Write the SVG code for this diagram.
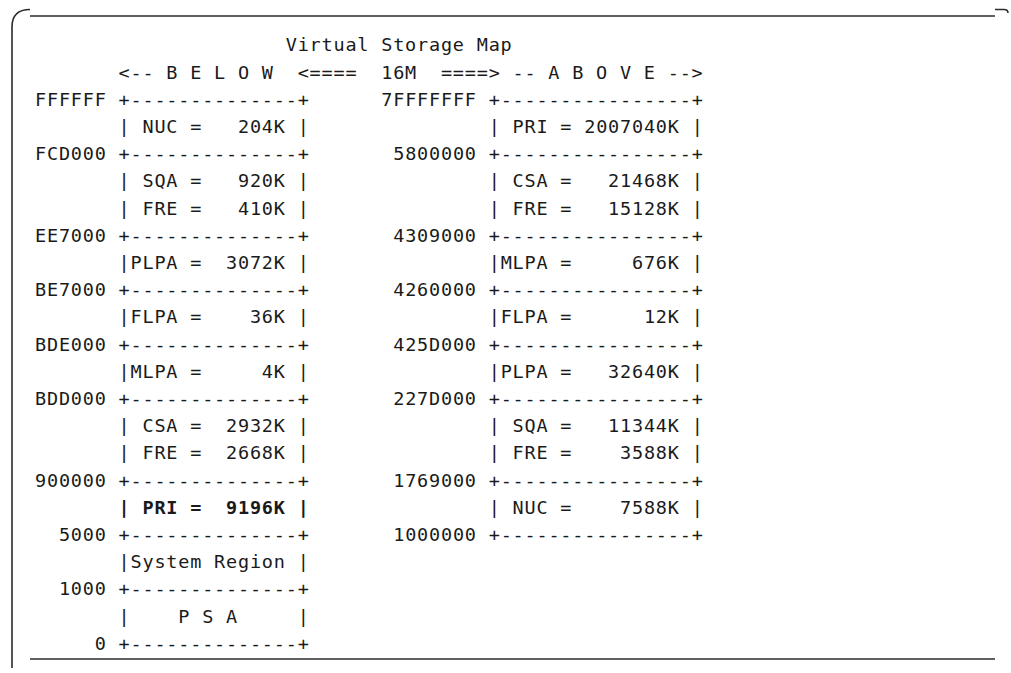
<svg xmlns="http://www.w3.org/2000/svg" width="1011" height="673" viewBox="0 0 1011 673">
  <style>
    .frame { fill: none; stroke: #2b2b2b; stroke-width: 1.6; }
    .mono { font-family: "DejaVu Sans Mono", "Liberation Mono", monospace; font-size: 18.5px; letter-spacing: 0.8px; fill: #1a1a1a; white-space: pre; }
    .b { font-weight: bold; }
  </style>
  <rect width="1011" height="673" fill="#ffffff"/>

  <!-- figure frame -->
  <g id="frame">
    <path class="frame" d="M30 9.5 Q12 9.5 12 27 L12 668"/>
    <path class="frame" d="M30 16 H995"/>
    <path class="frame" d="M995 9.5 H1004 Q1008 9.5 1008 13"/>
    <path class="frame" d="M30 659 H995"/>
  </g>

  <!-- heading -->
  <g id="title">
    <text class="mono" x="285.7" y="51.4" xml:space="preserve">Virtual Storage Map</text>
    <text class="mono" x="118.6" y="78.6" xml:space="preserve">&lt;-- B E L O W  &lt;====  16M  ====&gt; -- A B O V E --&gt;</text>
  </g>

  <!-- below-the-line storage map -->
  <g id="below-map">
    <text class="mono" x="35" y="105.8" xml:space="preserve">FFFFFF +--------------+</text>
    <text class="mono" x="35" y="133.0" xml:space="preserve">       | NUC =   204K |</text>
    <text class="mono" x="35" y="160.2" xml:space="preserve">FCD000 +--------------+</text>
    <text class="mono" x="35" y="187.4" xml:space="preserve">       | SQA =   920K |</text>
    <text class="mono" x="35" y="214.6" xml:space="preserve">       | FRE =   410K |</text>
    <text class="mono" x="35" y="241.8" xml:space="preserve">EE7000 +--------------+</text>
    <text class="mono" x="35" y="269.0" xml:space="preserve">       |PLPA =  3072K |</text>
    <text class="mono" x="35" y="296.2" xml:space="preserve">BE7000 +--------------+</text>
    <text class="mono" x="35" y="323.4" xml:space="preserve">       |FLPA =    36K |</text>
    <text class="mono" x="35" y="350.6" xml:space="preserve">BDE000 +--------------+</text>
    <text class="mono" x="35" y="377.8" xml:space="preserve">       |MLPA =     4K |</text>
    <text class="mono" x="35" y="405.0" xml:space="preserve">BDD000 +--------------+</text>
    <text class="mono" x="35" y="432.2" xml:space="preserve">       | CSA =  2932K |</text>
    <text class="mono" x="35" y="459.4" xml:space="preserve">       | FRE =  2668K |</text>
    <text class="mono" x="35" y="486.6" xml:space="preserve">900000 +--------------+</text>
    <text class="mono" x="35" y="513.8" xml:space="preserve">       <tspan class="b">| PRI =  9196K |</tspan></text>
    <text class="mono" x="35" y="541.0" xml:space="preserve">  5000 +--------------+</text>
    <text class="mono" x="35" y="568.2" xml:space="preserve">       |System Region |</text>
    <text class="mono" x="35" y="595.4" xml:space="preserve">  1000 +--------------+</text>
    <text class="mono" x="35" y="622.6" xml:space="preserve">       |    P S A     |</text>
    <text class="mono" x="35" y="649.8" xml:space="preserve">     0 +--------------+</text>
  </g>

  <!-- above-the-line storage map -->
  <g id="above-map">
    <text class="mono" x="381.3" y="105.8" xml:space="preserve">7FFFFFFF +----------------+</text>
    <text class="mono" x="381.3" y="133.0" xml:space="preserve">         | PRI = 2007040K |</text>
    <text class="mono" x="381.3" y="160.2" xml:space="preserve"> 5800000 +----------------+</text>
    <text class="mono" x="381.3" y="187.4" xml:space="preserve">         | CSA =   21468K |</text>
    <text class="mono" x="381.3" y="214.6" xml:space="preserve">         | FRE =   15128K |</text>
    <text class="mono" x="381.3" y="241.8" xml:space="preserve"> 4309000 +----------------+</text>
    <text class="mono" x="381.3" y="269.0" xml:space="preserve">         |MLPA =     676K |</text>
    <text class="mono" x="381.3" y="296.2" xml:space="preserve"> 4260000 +----------------+</text>
    <text class="mono" x="381.3" y="323.4" xml:space="preserve">         |FLPA =      12K |</text>
    <text class="mono" x="381.3" y="350.6" xml:space="preserve"> 425D000 +----------------+</text>
    <text class="mono" x="381.3" y="377.8" xml:space="preserve">         |PLPA =   32640K |</text>
    <text class="mono" x="381.3" y="405.0" xml:space="preserve"> 227D000 +----------------+</text>
    <text class="mono" x="381.3" y="432.2" xml:space="preserve">         | SQA =   11344K |</text>
    <text class="mono" x="381.3" y="459.4" xml:space="preserve">         | FRE =    3588K |</text>
    <text class="mono" x="381.3" y="486.6" xml:space="preserve"> 1769000 +----------------+</text>
    <text class="mono" x="381.3" y="513.8" xml:space="preserve">         | NUC =    7588K |</text>
    <text class="mono" x="381.3" y="541.0" xml:space="preserve"> 1000000 +----------------+</text>
  </g>
</svg>
